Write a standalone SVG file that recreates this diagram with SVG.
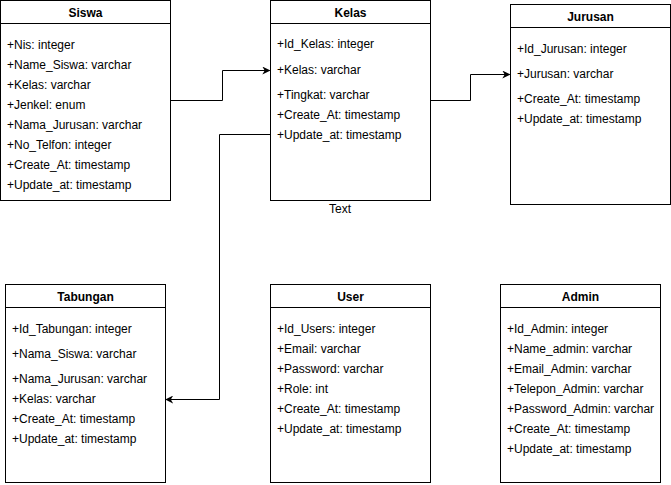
<svg xmlns="http://www.w3.org/2000/svg" width="671" height="485" viewBox="0 0 671 485">
<defs>
<style>
.box{fill:#fff;stroke:#000;stroke-width:1}
.hd{font-family:"Liberation Sans",Arial,sans-serif;font-size:12px;font-weight:bold;text-anchor:middle;fill:#000}
.t{font-family:"Liberation Sans",Arial,sans-serif;font-size:12px;fill:#000}
.c{fill:none;stroke:#000;stroke-width:1}
</style>
<marker id="arr" viewBox="0 0 10 10" refX="9" refY="5" markerWidth="8" markerHeight="8" markerUnits="userSpaceOnUse" orient="auto">
<path d="M0,0 L10,5 L0,10 L3,5 Z" fill="#000"/>
</marker>
</defs>
<rect width="671" height="485" fill="#fff"/>
<g id="connectors">
<path class="c" d="M170.5,100.5 H222.5 V70.5 H269.5" marker-end="url(#arr)"/>
<path class="c" d="M430.5,100.5 H470.5 V74.5 H509.5" marker-end="url(#arr)"/>
<path class="c" d="M270.5,134.5 H219.5 V399.5 H166" marker-end="url(#arr)"/>
</g>
<g id="siswa">
<rect class="box" x="0.5" y="0.5" width="170" height="200"/>
<line class="c" x1="0.5" y1="23.5" x2="170.5" y2="23.5"/>
<text class="hd" x="85.5" y="16.5">Siswa</text>
<text class="t" x="7" y="49">+Nis: integer</text>
<text class="t" x="7" y="69">+Name_Siswa: varchar</text>
<text class="t" x="7" y="89">+Kelas: varchar</text>
<text class="t" x="7" y="109">+Jenkel: enum</text>
<text class="t" x="7" y="129">+Nama_Jurusan: varchar</text>
<text class="t" x="7" y="149">+No_Telfon: integer</text>
<text class="t" x="7" y="169">+Create_At: timestamp</text>
<text class="t" x="7" y="189">+Update_at: timestamp</text>
</g>
<g id="kelas">
<rect class="box" x="270.5" y="0.5" width="160" height="200"/>
<line class="c" x1="270.5" y1="23.5" x2="430.5" y2="23.5"/>
<text class="hd" x="350.5" y="16.5">Kelas</text>
<text class="t" x="277" y="48">+Id_Kelas: integer</text>
<text class="t" x="277" y="74">+Kelas: varchar</text>
<text class="t" x="277" y="99">+Tingkat: varchar</text>
<text class="t" x="277" y="119">+Create_At: timestamp</text>
<text class="t" x="277" y="139">+Update_at: timestamp</text>
</g>
<g id="text-label">
<text class="t" x="340" y="213" text-anchor="middle">Text</text>
</g>
<g id="jurusan">
<rect class="box" x="510.5" y="4.5" width="160" height="200"/>
<line class="c" x1="510.5" y1="27.5" x2="670.5" y2="27.5"/>
<text class="hd" x="590.5" y="20.5">Jurusan</text>
<text class="t" x="517" y="53">+Id_Jurusan: integer</text>
<text class="t" x="517" y="78">+Jurusan: varchar</text>
<text class="t" x="517" y="103">+Create_At: timestamp</text>
<text class="t" x="517" y="123">+Update_at: timestamp</text>
</g>
<g id="tabungan">
<rect class="box" x="5.5" y="284.5" width="160" height="198"/>
<line class="c" x1="5.5" y1="307.5" x2="165.5" y2="307.5"/>
<text class="hd" x="85.5" y="300.5">Tabungan</text>
<text class="t" x="12" y="333">+Id_Tabungan: integer</text>
<text class="t" x="12" y="358">+Nama_Siswa: varchar</text>
<text class="t" x="12" y="383">+Nama_Jurusan: varchar</text>
<text class="t" x="12" y="403">+Kelas: varchar</text>
<text class="t" x="12" y="423">+Create_At: timestamp</text>
<text class="t" x="12" y="443">+Update_at: timestamp</text>
</g>
<g id="user">
<rect class="box" x="270.5" y="284.5" width="160" height="198"/>
<line class="c" x1="270.5" y1="307.5" x2="430.5" y2="307.5"/>
<text class="hd" x="350.5" y="300.5">User</text>
<text class="t" x="277" y="333">+Id_Users: integer</text>
<text class="t" x="277" y="353">+Email: varchar</text>
<text class="t" x="277" y="373">+Password: varchar</text>
<text class="t" x="277" y="393">+Role: int</text>
<text class="t" x="277" y="413">+Create_At: timestamp</text>
<text class="t" x="277" y="433">+Update_at: timestamp</text>
</g>
<g id="admin">
<rect class="box" x="500.5" y="284.5" width="160" height="198"/>
<line class="c" x1="500.5" y1="307.5" x2="660.5" y2="307.5"/>
<text class="hd" x="580.5" y="300.5">Admin</text>
<text class="t" x="507" y="333">+Id_Admin: integer</text>
<text class="t" x="507" y="353">+Name_admin: varchar</text>
<text class="t" x="507" y="373">+Email_Admin: varchar</text>
<text class="t" x="507" y="393">+Telepon_Admin: varchar</text>
<text class="t" x="507" y="413">+Password_Admin: varchar</text>
<text class="t" x="507" y="433">+Create_At: timestamp</text>
<text class="t" x="507" y="453">+Update_at: timestamp</text>
</g>
</svg>
